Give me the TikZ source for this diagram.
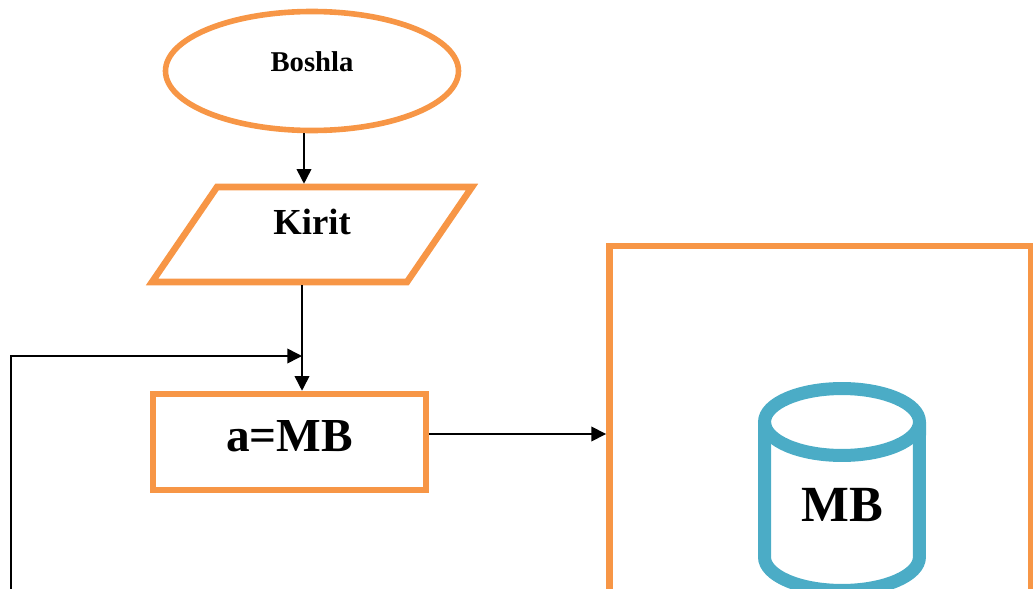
\documentclass[tikz,border=0pt]{standalone}
\usepackage{fontspec}
\setmainfont{Liberation Serif}
\usetikzlibrary{shapes.geometric,arrows.meta}
\definecolor{flowor}{HTML}{F79646}
\definecolor{flowbl}{HTML}{4BACC6}
\begin{document}
\begin{tikzpicture}[x=0.75pt,y=-0.75pt,
    orbox/.style={draw=flowor,line width=4.9pt,inner sep=0pt},
    arr/.style={line width=1.2pt,-{Triangle[length=11pt,width=11pt]}}]
    \useasboundingbox (0,0) rectangle (1033,589);
    \clip (0,0) rectangle (1033,589);
    \node [orbox,ellipse,line width=4.2pt,minimum width=219.75pt,minimum height=89.25pt,
        font=\fontsize{21.5}{24}\selectfont\bfseries,text height=15pt,text depth=15pt] (start) at (312,71) {Boshla};
    \node [orbox,trapezium,trapezium left angle=55.6,trapezium right angle=124.4,
        trapezium stretches body,minimum width=240pt,minimum height=71.25pt,
        font=\fontsize{27.5}{30}\selectfont\bfseries,text height=35.6pt,text depth=35.6pt] (input) at (312,234.5) {Kirit};
    \node [orbox,rectangle,minimum width=204.75pt,minimum height=72pt,
        font=\fontsize{35.5}{38}\selectfont\bfseries,text height=24pt,text depth=9.5pt] (calc) at (289.5,442) {a=MB};
    \node [orbox,rectangle,line width=5.2pt,minimum width=316.1pt,minimum height=340.5pt] (frame) at (820.25,473) {};
    % baza
    \draw [flowbl,line width=9.75pt] (764.5,422) -- (764.5,557)
        arc [start angle=180,end angle=360,x radius=58.1pt,y radius=25.1pt] -- (919.5,422);
    \draw [flowbl,line width=9.75pt] (842,422) ellipse [x radius=58.1pt,y radius=25.1pt];
    \node [font=\fontsize{38}{40}\selectfont\bfseries,anchor=base] (mb) at (842,521) {MB};
    % strelkalar
    \coordinate (join) at (302,356);
    \coordinate (back) at (11,620);
    \draw [arr] ([xshift=-6pt]start.south) -- ([xshift=-6pt]start.south |- input.north);
    \draw [arr] ([xshift=-7.5pt]input.south) -- ([xshift=-7.5pt]input.south |- calc.north);
    \draw [arr] (back) |- (join);
    \draw [arr] ([yshift=6pt]calc.east) -- ([yshift=6pt]calc.east -| frame.west);
\end{tikzpicture}
\end{document}
